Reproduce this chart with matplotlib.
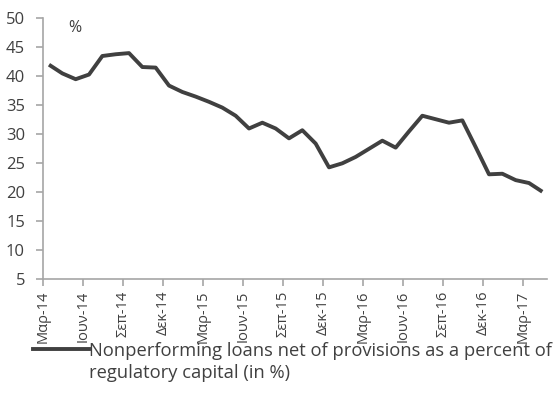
import matplotlib
matplotlib.use("Agg")
import matplotlib.pyplot as plt
from matplotlib.lines import Line2D

plt.rcParams['font.family'] = ['Open Sans', 'DejaVu Sans']

# monthly values, Mar-14 .. Apr-17
months = ['Μαρ-14', 'Απρ-14', 'Μαϊ-14', 'Ιουν-14', 'Ιουλ-14', 'Αυγ-14', 'Σεπ-14', 'Οκτ-14', 'Νοε-14', 'Δεκ-14',
          'Ιαν-15', 'Φεβ-15', 'Μαρ-15', 'Απρ-15', 'Μαϊ-15', 'Ιουν-15', 'Ιουλ-15', 'Αυγ-15', 'Σεπ-15', 'Οκτ-15',
          'Νοε-15', 'Δεκ-15', 'Ιαν-16', 'Φεβ-16', 'Μαρ-16', 'Απρ-16', 'Μαϊ-16', 'Ιουν-16', 'Ιουλ-16', 'Αυγ-16',
          'Σεπ-16', 'Οκτ-16', 'Νοε-16', 'Δεκ-16', 'Ιαν-17', 'Φεβ-17', 'Μαρ-17', 'Απρ-17']
npl = [42.0, 40.5, 39.5, 40.3, 43.5, 43.8, 44.0, 41.6, 41.5, 38.4,
       37.3, 36.5, 35.6, 34.6, 33.2, 31.0, 32.0, 31.0, 29.3, 30.7,
       28.4, 24.3, 25.0, 26.1, 27.5, 28.9, 27.7, 30.5, 33.2, 32.6,
       32.0, 32.4, 27.8, 23.1, 23.2, 22.1, 21.6, 20.1]
tick_labels = ['Μαρ-14', 'Ιουν-14', 'Σεπ-14', 'Δεκ-14', 'Μαρ-15', 'Ιουν-15', 'Σεπ-15',
               'Δεκ-15', 'Μαρ-16', 'Ιουν-16', 'Σεπ-16', 'Δεκ-16', 'Μαρ-17']
series_name = ['Nonperforming loans net of provisions as a percent of',
               'regulatory capital (in %)']

txt = '#404040'
axc = '#a6a6a6'

fig = plt.figure(figsize=(5.6, 4.2), dpi=100)
ax = fig.add_axes([43/560, 1 - 279.3/420, 504/560, 261/420])

x = [i + 0.45 for i in range(len(npl))]
ax.plot(x, npl, color='#404040', lw=2.8, solid_joinstyle='round', solid_capstyle='butt')

ax.set_ylim(5, 50)
ax.set_yticks(range(5, 51, 5))
ax.set_xlim(0, 37.8)
ax.set_xticks([months.index(t) for t in tick_labels])
ax.set_xticklabels(tick_labels, rotation=90)

for s in ['top', 'right']:
    ax.spines[s].set_visible(False)
for s in ['left', 'bottom']:
    ax.spines[s].set_color(axc)
    ax.spines[s].set_linewidth(1.2)
ax.tick_params(axis='both', colors=axc, labelcolor=txt, length=5, width=1.2)
ax.tick_params(axis='y', pad=8, labelsize=12)
ax.tick_params(axis='x', pad=3, labelsize=10.5)

ax.text(2.4, 48.3, '%', color=txt, fontsize=11.5, ha='center', va='center')

# legend below the chart
ly = 1 - 349/420
fig.add_artist(Line2D([33/560, 89/560], [ly, ly], color='#404040', lw=2.8, transform=fig.transFigure))
fig.text(89/560, 1 - 351/420, series_name[0], color=txt, fontsize=13.2, ha='left', va='center')
fig.text(89/560, 1 - 373/420, series_name[1], color=txt, fontsize=13.2, ha='left', va='center')

fig.savefig('out.png', dpi=100)
